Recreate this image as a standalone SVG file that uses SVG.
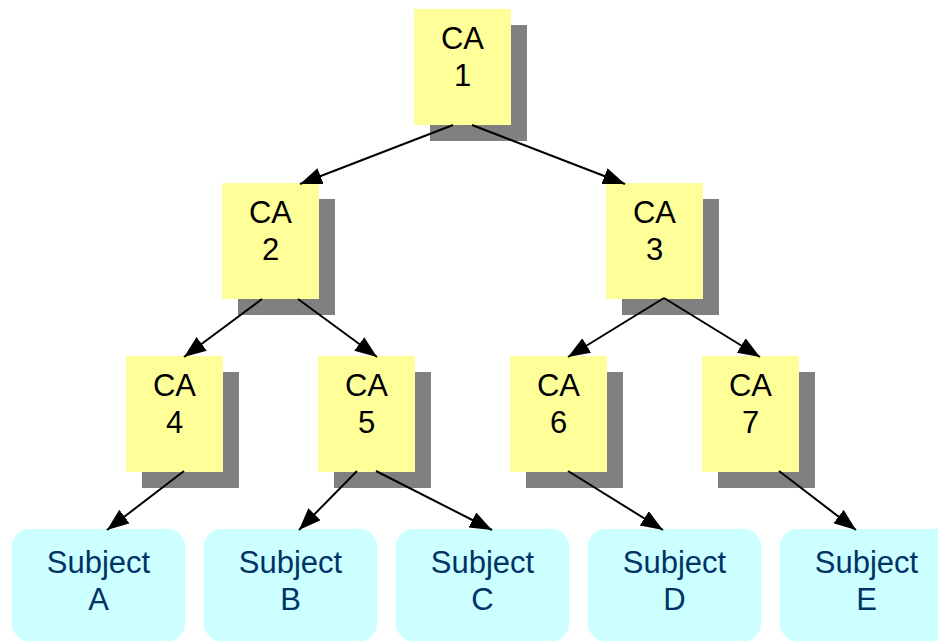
<svg xmlns="http://www.w3.org/2000/svg" width="938" height="641" viewBox="0 0 938 641">
<defs>
<style>
.shadow{fill:#808080}
.ca{fill:#FFFF99}
.subj{fill:#CCFFFF}
.t{font-family:"Liberation Sans",Arial,sans-serif;font-size:31px;text-anchor:middle;fill:#000}
.ts{font-family:"Liberation Sans",Arial,sans-serif;font-size:31px;text-anchor:middle;fill:#003366}
.c{stroke:#000;stroke-width:2;fill:none;marker-end:url(#ah)}
</style>
<marker id="ah" markerUnits="userSpaceOnUse" markerWidth="24" markerHeight="18" refX="22" refY="8.5" orient="auto" viewBox="0 0 24 18">
<path d="M0,0 L22,8.5 L0,17 z" fill="#000"/>
</marker>
</defs>
<rect width="938" height="641" fill="#fff"/>
<g id="ca1"><rect class="shadow" x="430" y="25" width="97" height="116"/><rect class="ca" x="414" y="9" width="97" height="116"/><text class="t" x="462.5" y="49">CA</text><text class="t" x="462.5" y="86">1</text></g>
<g id="ca2"><rect class="shadow" x="238" y="199" width="97" height="116"/><rect class="ca" x="222" y="183" width="97" height="116"/><text class="t" x="270.5" y="223">CA</text><text class="t" x="270.5" y="260">2</text></g>
<g id="ca3"><rect class="shadow" x="622" y="199" width="97" height="116"/><rect class="ca" x="606" y="183" width="97" height="116"/><text class="t" x="654.5" y="223">CA</text><text class="t" x="654.5" y="260">3</text></g>
<g id="ca4"><rect class="shadow" x="142" y="372" width="97" height="116"/><rect class="ca" x="126" y="356" width="97" height="116"/><text class="t" x="174.5" y="396">CA</text><text class="t" x="174.5" y="433">4</text></g>
<g id="ca5"><rect class="shadow" x="334" y="372" width="97" height="116"/><rect class="ca" x="318" y="356" width="97" height="116"/><text class="t" x="366.5" y="396">CA</text><text class="t" x="366.5" y="433">5</text></g>
<g id="ca6"><rect class="shadow" x="526" y="372" width="97" height="116"/><rect class="ca" x="510" y="356" width="97" height="116"/><text class="t" x="558.5" y="396">CA</text><text class="t" x="558.5" y="433">6</text></g>
<g id="ca7"><rect class="shadow" x="718" y="372" width="97" height="116"/><rect class="ca" x="702" y="356" width="97" height="116"/><text class="t" x="750.5" y="396">CA</text><text class="t" x="750.5" y="433">7</text></g>
<g id="subjA"><rect class="subj" x="12" y="529" width="173" height="112" rx="17"/><text class="ts" x="98.5" y="573">Subject</text><text class="ts" x="98.5" y="610">A</text></g>
<g id="subjB"><rect class="subj" x="204" y="529" width="173" height="112" rx="17"/><text class="ts" x="290.5" y="573">Subject</text><text class="ts" x="290.5" y="610">B</text></g>
<g id="subjC"><rect class="subj" x="396" y="529" width="173" height="112" rx="17"/><text class="ts" x="482.5" y="573">Subject</text><text class="ts" x="482.5" y="610">C</text></g>
<g id="subjD"><rect class="subj" x="588" y="529" width="173" height="112" rx="17"/><text class="ts" x="674.5" y="573">Subject</text><text class="ts" x="674.5" y="610">D</text></g>
<g id="subjE"><rect class="subj" x="780" y="529" width="173" height="112" rx="17"/><text class="ts" x="866.5" y="573">Subject</text><text class="ts" x="866.5" y="610">E</text></g>
<g id="connectors">
<line class="c" x1="453" y1="125" x2="300" y2="184"/>
<line class="c" x1="472" y1="125" x2="625" y2="184"/>
<line class="c" x1="262" y1="299" x2="184" y2="357"/>
<line class="c" x1="298" y1="299" x2="377" y2="357"/>
<line class="c" x1="664" y1="298" x2="568" y2="357"/>
<line class="c" x1="664" y1="298" x2="760" y2="357"/>
<line class="c" x1="184" y1="471" x2="107" y2="530"/>
<line class="c" x1="357" y1="471" x2="299" y2="530"/>
<line class="c" x1="376" y1="471" x2="492" y2="530"/>
<line class="c" x1="568" y1="471" x2="663" y2="530"/>
<line class="c" x1="779" y1="471" x2="856" y2="530"/>
</g>
</svg>
